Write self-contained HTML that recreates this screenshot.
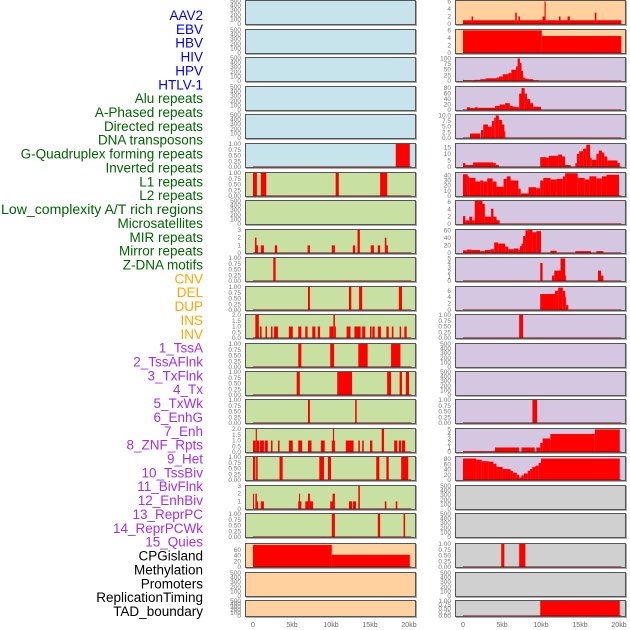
<!DOCTYPE html>
<html><head><meta charset="utf-8"><style>
html,body{margin:0;padding:0;background:#fff;width:630px;height:630px;overflow:hidden}
svg{display:block;font-family:"Liberation Sans","DejaVu Sans",sans-serif}
</style></head><body>
<svg id="chart" width="630" height="630" viewBox="0 0 630 630" xmlns="http://www.w3.org/2000/svg">
<g id="labels"></g>
<g id="panels"></g>
<g id="xaxes"></g>
</svg>
<script>
// ---- data ----
const trackLabels = ["AAV2","EBV","HBV","HIV","HPV","HTLV-1","Alu repeats","A-Phased repeats","Directed repeats","DNA transposons","G-Quadruplex forming repeats","Inverted repeats","L1 repeats","L2 repeats","Low_complexity A/T rich regions","Microsatellites","MIR repeats","Mirror repeats","Z-DNA motifs","CNV","DEL","DUP","INS","INV","1_TssA","2_TssAFlnk","3_TxFlnk","4_Tx","5_TxWk","6_EnhG","7_Enh","8_ZNF_Rpts","9_Het","10_TssBiv","11_BivFlnk","12_EnhBiv","13_ReprPC","14_ReprPCWk","15_Quies","CPGisland","Methylation","Promoters","ReplicationTiming","TAD_boundary"];
const labelColors = ["#0000ff","#0000ff","#0000ff","#0000ff","#0000ff","#0000ff","#006400","#006400","#006400","#006400","#006400","#006400","#006400","#006400","#006400","#006400","#006400","#006400","#006400","#ffa500","#ffa500","#ffa500","#ffa500","#ffa500","#a030f0","#a030f0","#a030f0","#a030f0","#a030f0","#a030f0","#a030f0","#a030f0","#a030f0","#a030f0","#a030f0","#a030f0","#a030f0","#a030f0","#a030f0","#000","#000","#000","#000","#000"];
const xTickValues = [0,5,10,15,20];
const xTickLabels = ["0","5kb","10kb","15kb","20kb"];
const T_E = [0,100,200,300,400,500];
const T_U = [0,0.25,0.5,0.75,1];
const T_2 = [0,0.5,1,1.5,2];
const T_3 = [0,1,2,3];
const leftTicks = [T_E,T_E,T_E,T_E,T_E,T_U,T_U,T_E,T_3,T_U,T_U,T_2,T_U,T_U,T_U,T_2,T_U,T_3,T_U,[0,20,40,60],T_E,T_E];
const leftYmax = [500,500,500,500,500,1,1,500,3,1,1,2,1,1,1,2,1,3,1,81,500,500];
const rightTicks = [[0,2,4,6],[0,2,4,6],[0,25,50,75,100],[0,20,40,60,80],[0,2.5,5,7.5,10],[0,5,10,15],[0,10,20,30,40],[0,2,4,6],[0,20,40,60],[0,1,2,3,4,5],[0,2,4,6],T_U,T_E,T_E,T_U,[0,1,2,3,4,5],[0,20,40,60,80],T_E,T_E,T_U,T_E,T_U];
const rightYmax = [6.1,6.1,102,84,10.2,17.5,44.5,6.3,61,5.1,7.2,1,500,500,1,5.1,88,500,500,1,500,1];
const L06 = [[18.3,20.1,1]];
const L07 = [[0,0.5,1],[1.0,1.7,1],[10.6,11.0,1],[16.3,17.2,1]];
const L09 = [[0.25,0.45,2],[0.45,0.65,1],[1.0,1.4,1],[2.8,3.1,1],[7.0,7.3,1],[10.1,10.5,1],[12.8,13.1,1],[13.4,13.7,3],[15.1,15.5,1],[16.0,16.3,1],[16.9,17.1,2],[17.1,17.3,1]];
const L10 = [[2.6,2.9,1]];
const L11 = [[7.05,7.3,1],[12.3,12.6,1],[13.6,14.0,1],[18.7,19.1,1]];
const L12 = [[0.3,0.75,2],[0.9,1.1,1],[1.6,1.8,1],[2.3,2.5,1],[2.7,3.2,1],[4.6,5.1,1],[5.8,6.2,1],[6.7,7.0,1],[7.6,8.0,1],[8.3,8.6,1],[9.8,10.3,1],[10.3,10.5,2],[10.5,10.6,1],[12.0,12.5,1],[13.0,13.8,1],[14.0,14.4,1],[15.0,15.2,1],[15.3,15.6,1],[16.0,16.4,1],[17.1,17.4,1],[17.8,18.0,1],[18.8,19.0,1],[19.4,19.7,1]];
const L13 = [[5.8,6.2,1],[9.9,10.4,1],[13.5,14.7,1],[17.7,18.9,1]];
const L14 = [[5.6,6.0,1],[10.8,12.7,1],[17.2,17.7,1],[18.8,19.1,1],[19.6,20.0,1]];
const L15 = [[7.05,7.3,1],[13.1,13.3,1]];
const L16 = [[0,0.35,1],[0.35,0.5,2],[0.5,0.8,1],[0.9,1.4,1],[1.5,1.9,1],[2.3,2.5,1],[3.2,3.4,1],[4.6,5.1,1],[5.8,6.3,1],[7.05,7.5,1],[8.7,9.2,1],[10.1,10.25,1],[10.25,10.4,2],[10.4,10.5,1],[11.9,12.9,1],[13.5,13.7,1],[14.0,14.2,1],[15.0,15.3,1],[16.5,16.8,2],[18.1,18.5,1],[18.7,19.0,1],[19.1,19.5,1]];
const L17 = [[0,0.3,1],[0.4,0.6,1],[3.4,3.8,1],[8.5,9.1,1],[9.6,10.0,1],[15.8,16.2,1],[17.1,17.4,1],[19.0,19.9,1]];
const L18 = [[0,0.1,2],[0.3,0.5,2],[0.5,0.65,1],[1.0,1.4,1],[5.8,5.9,1],[5.9,6.0,2],[6.0,6.2,1],[6.7,7.05,1],[7.05,7.3,2],[7.3,7.7,1],[9.9,10.2,1],[10.2,10.5,2],[12.3,12.7,1],[12.8,13.2,1],[13.5,13.7,3],[16.9,17.1,1],[18.3,18.5,1]];
const L19 = [[10.1,10.5,1],[16.0,16.3,1],[19.3,19.5,1]];
const L20 = [[0,10.1,78],[10.1,20.1,43]];
const R01 = [[0,1.1,1],[1.1,1.3,2],[1.3,6.7,1],[6.7,6.9,3],[6.9,7.1,1],[7.1,7.3,2],[7.3,10.2,1],[10.2,10.45,2],[10.45,10.6,6],[10.6,12.3,1],[12.3,12.5,2],[12.5,13.4,1],[13.4,13.7,2],[13.7,16.9,1],[16.9,17.1,3],[17.1,20.3,1]];
const R02 = [[0,10.1,6],[10.1,20.3,4.5]];
const R03 = [[0,0.1,5],[0.1,1.4,3],[1.4,2.2,5],[2.2,2.9,8],[2.9,4.3,12],[4.3,4.6,15],[4.6,5.1,20],[5.1,5.8,30],[5.8,6.2,35],[6.2,6.8,50],[6.8,7.0,65],[7.0,7.3,100],[7.3,7.5,80],[7.5,7.7,45],[7.7,8.0,15],[8.0,8.4,10],[8.4,9.0,8],[9.0,9.7,3]];
const R04 = [[0.5,0.9,10],[0.9,1.5,7],[1.5,1.9,10],[1.9,4.1,8],[4.1,4.7,15],[4.7,5.4,20],[5.4,6.0,25],[6.0,6.4,15],[6.4,6.9,12],[6.9,7.2,10],[7.2,7.5,60],[7.5,7.9,80],[7.9,8.2,60],[8.2,8.6,40],[8.6,9.0,25],[9.0,10.0,12]];
const R05 = [[0.9,2.2,2],[2.3,2.6,3.5],[2.6,3.2,6],[3.2,3.7,5],[3.7,4.0,7.5],[4.0,4.2,9],[4.2,4.6,10],[4.6,5.0,8],[5.0,5.3,6],[5.3,5.4,3]];
const R06 = [[0,0.3,3],[0.3,1.3,1.5],[1.3,3.9,3.5],[3.9,4.2,3],[4.2,4.6,1.5],[9.9,10.7,7.5],[10.7,11.0,7],[11.0,12.2,8.5],[12.2,12.7,9.5],[12.7,13.1,8],[13.1,13.8,1.5],[14.4,14.6,3],[14.6,14.9,10],[14.9,15.4,12],[15.4,15.8,14],[15.8,16.3,17],[16.3,16.5,7],[16.5,17.1,5.5],[17.1,17.4,10],[17.4,17.8,12.5],[17.8,18.1,11],[18.1,18.5,8],[18.5,19.8,5],[19.8,20.1,3]];
const R07 = [[0,0.6,42],[0.6,0.8,38],[0.8,1.6,35],[1.6,2.2,28],[2.2,2.6,30],[2.6,3.1,28],[3.1,3.8,34],[3.8,4.3,28],[4.3,5.2,18],[5.2,5.6,33],[5.6,6.1,38],[6.1,7.1,30],[7.1,7.4,14],[7.4,8.4,5],[8.4,9.4,17],[9.4,9.9,15],[9.9,10.3,30],[10.3,11.2,35],[11.2,12.0,32],[12.0,12.8,33],[12.8,13.1,38],[13.1,14.7,44],[14.7,15.6,35],[15.6,16.2,32],[16.2,17.1,38],[17.1,17.8,34],[17.8,18.4,38],[18.4,20.0,41]];
const R08 = [[0,0.3,2.2],[0.3,0.8,1],[0.8,1.2,2],[1.2,1.5,1],[1.5,2.5,6.5],[2.5,2.8,5.5],[2.8,3.6,2],[3.6,3.9,4.2],[3.9,4.3,2],[4.3,4.7,1]];
const R09 = [[0,0.5,7],[0.5,1.1,9],[1.1,2.2,8],[2.2,2.8,5],[2.8,3.5,8],[3.5,4.0,10],[4.0,4.5,28],[4.5,5.4,25],[5.4,5.8,17],[5.8,6.5,10],[6.5,7.1,12],[7.1,7.3,8],[7.3,7.5,18],[7.5,7.7,25],[7.7,8.0,45],[8.0,8.4,60],[8.4,8.9,62],[8.9,9.4,55],[9.4,10.0,58],[11.2,12.0,6],[14.4,16.4,5],[17.1,18.0,5]];
const R10 = [[9.9,10.2,4],[11.4,11.7,1.2],[11.7,12.5,2.3],[12.5,13.1,5],[13.1,13.2,1.2],[17.3,17.7,2.3],[17.7,18.0,1.2]];
const R11 = [[9.9,11.8,5],[11.8,12.2,6],[12.2,12.8,7],[12.8,13.1,6],[13.1,13.2,4],[13.2,13.5,1.5]];
const R12 = [[7.2,7.7,1]];
const R15 = [[8.9,9.5,1]];
const R16 = [[0,4.1,0.15],[4.1,7.2,1],[7.5,9.2,1],[9.4,9.9,1],[9.9,10.2,2],[10.2,11.2,3],[11.2,16.9,4],[16.9,20.1,5]];
const R17 = [[0,1.7,82],[1.7,2.4,78],[2.4,3.3,72],[3.3,3.9,70],[3.9,4.3,62],[4.3,5.1,50],[5.1,6.1,42],[6.1,6.4,35],[6.4,6.9,28],[6.9,7.2,20],[7.2,7.5,10],[7.5,7.8,18],[7.8,8.3,25],[8.3,8.6,35],[8.6,8.9,42],[8.9,9.3,50],[9.3,9.7,55],[9.7,10.0,65],[10.0,20.1,82]];
const R20 = [[4.9,5.3,1],[7.2,8.0,1]];
const R22 = [[9.9,20.1,1]];
const leftSeries = [null,null,null,null,null,L06,L07,null,L09,L10,L11,L12,L13,L14,L15,L16,L17,L18,L19,L20,null,null];
const rightSeries = [R01,R02,R03,R04,R05,R06,R07,R08,R09,R10,R11,R12,null,null,R15,R16,R17,null,null,R20,null,R22];

// ---- layout ----
const NS="http://www.w3.org/2000/svg";
const rowTops=[0,29,57,86,114,143,172,200,229,257,286,314,343,371,399,428,456,485,513,543,572,600];
const rowH=i=>i===21?17:25;
const cols=[{x:245,w:171,bgs:i=>i<6?"#c7e3eb":(i<19?"#c8e1a3":"#fed19f"),ticks:leftTicks,ymax:leftYmax,series:leftSeries,name:"left"},
            {x:455,w:171,bgs:i=>i<2?"#fed19f":(i<17?"#d5c6e2":"#d0d0d0"),ticks:rightTicks,ymax:rightYmax,series:rightSeries,name:"right"}];
function mk(tag,attrs,parent){const e=document.createElementNS(NS,tag);for(const k in attrs)e.setAttribute(k,attrs[k]);parent.appendChild(e);return e;}
function fmt(ticks,v){
  const maxT=ticks[ticks.length-1];
  if(maxT===1)return v.toFixed(2);
  if(ticks.some(t=>t%1!==0))return v.toFixed(1);
  return String(v);
}
const labelsG=document.getElementById('labels');
trackLabels.forEach((t,i)=>{
  const el=mk('text',{x:203,y:20+i*13.86,'text-anchor':'end','font-size':'13.5',fill:labelColors[i]},labelsG);
  
  
  if(t.length>29){el.setAttribute('textLength','202');el.setAttribute('lengthAdjust','spacingAndGlyphs');}
  el.textContent=t;
});
const panelsG=document.getElementById('panels');
cols.forEach(c=>{
  const xs=kb=>c.x+8+kb*7.8;
  rowTops.forEach((top,i)=>{
    const h=rowH(i);
    const g=mk('g',{},panelsG);
    
    
    mk('rect',{x:c.x+1,y:top+1,width:c.w,height:h,fill:'#aaa'},g);
    mk('rect',{x:c.x,y:top,width:c.w,height:h,fill:c.bgs(i)},g);
    const ymax=c.ymax[i];
    const ys=v=>top+h-1-(v/ymax)*(h-2);
    const ticks=c.ticks[i];
    ticks.forEach(t=>{
      const tl=mk('text',{x:c.x-4,y:ys(t)+2,'text-anchor':'end','font-size':'6.5',fill:'#777'},g);
      
      
      tl.textContent=fmt(ticks,t);
    });
    const s=c.series[i];
    if(s){
      s.forEach(d=>{
        const b=mk('rect',{x:xs(d[0]),y:ys(d[2]),width:Math.max(1,xs(d[1])-xs(d[0])),height:ys(0)-ys(d[2]),fill:'#ff0000'},g);
        
        
      });
      const bl=mk('line',{x1:xs(0),x2:xs(20.3),y1:ys(0),y2:ys(0),stroke:'rgba(150,0,0,0.5)','stroke-width':2},g);
      
      
    }
    mk('rect',{x:c.x+0.5,y:top+0.5,width:c.w-1,height:h-1,fill:'none',stroke:'#555','stroke-width':1},g);
  });
  const ax=document.getElementById('xaxes');
  xTickValues.forEach((v,k)=>{
    const tl=mk('text',{x:xs(v),y:627,'text-anchor':'middle','font-size':'7',fill:'#666'},ax);
    
    
    tl.textContent=xTickLabels[k];
  });
});
</script>
</body></html>
